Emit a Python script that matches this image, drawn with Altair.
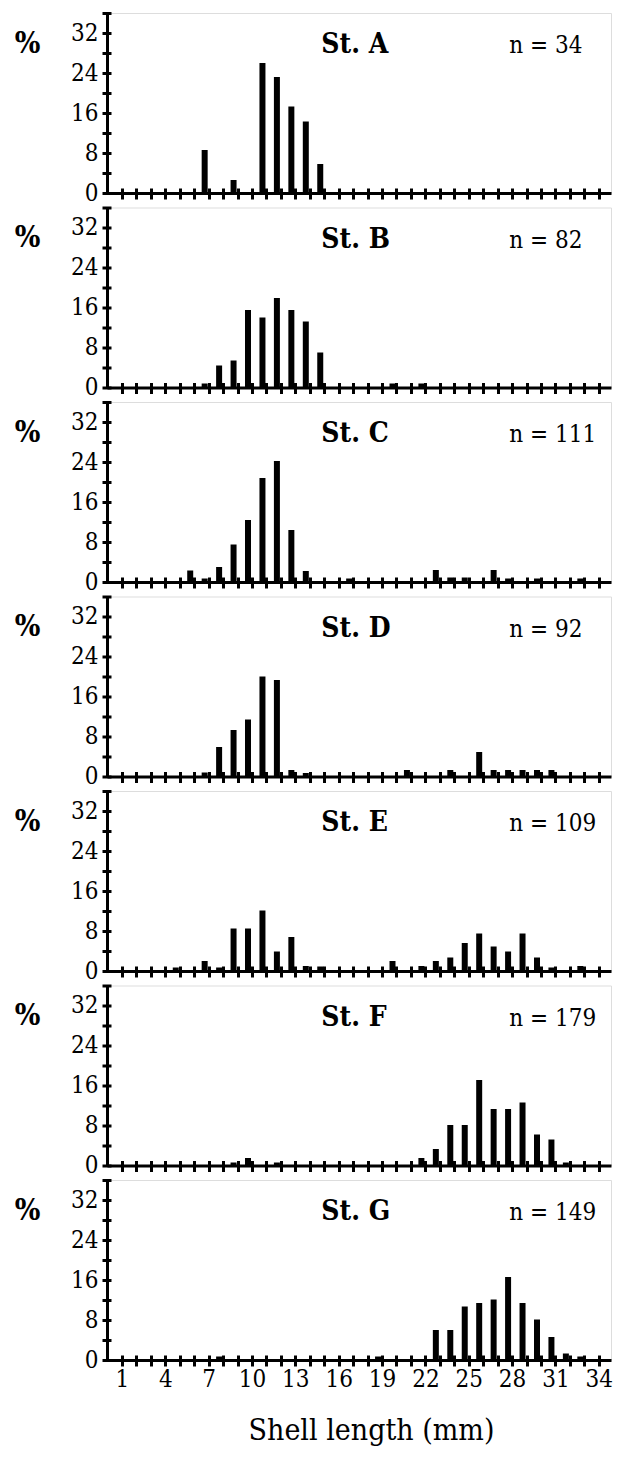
import altair as alt
import pandas as pd

FONT = "DejaVu Serif Condensed"

stations = ["St. A", "St. B", "St. C", "St. D", "St. E", "St. F", "St. G"]
sample_sizes = [34, 82, 111, 92, 109, 179, 149]

len_A = [7, 9, 11, 12, 13, 14, 15]
pct_A = [8.6, 2.6, 26.0, 23.2, 17.3, 14.3, 5.8]

len_B = [7, 8, 9, 10, 11, 12, 13, 14, 15, 20, 22]
pct_B = [0.8, 4.4, 5.4, 15.5, 14.0, 17.9, 15.5, 13.2, 7.0, 0.8, 0.8]

len_C = [6, 7, 8, 9, 10, 11, 12, 13, 14, 17, 23, 24, 25, 27, 28, 30, 33]
pct_C = [2.3, 0.7, 3.0, 7.5, 12.4, 20.8, 24.2, 10.4, 2.2, 0.7, 2.4, 0.9, 0.9, 2.4, 0.7, 0.7, 0.7]

len_D = [7, 8, 9, 10, 11, 12, 13, 14, 21, 24, 26, 27, 28, 29, 30, 31]
pct_D = [0.8, 5.9, 9.3, 11.4, 20.0, 19.3, 1.3, 0.7, 1.3, 1.3, 4.9, 1.3, 1.3, 1.3, 1.3, 1.3]

len_E = [5, 7, 8, 9, 10, 11, 12, 13, 14, 15, 20, 22, 23, 24, 25, 26, 27, 28, 29, 30, 31, 33]
pct_E = [0.7, 2.0, 0.7, 8.5, 8.5, 12.1, 3.9, 6.8, 1.0, 0.9, 2.0, 1.0, 2.0, 2.7, 5.6,
         7.5, 4.9, 3.9, 7.5, 2.7, 0.7, 1.0]

len_F = [9, 10, 12, 22, 23, 24, 25, 26, 27, 28, 29, 30, 31, 32]
pct_F = [0.6, 1.5, 0.6, 1.5, 3.3, 8.1, 8.1, 17.1, 11.3, 11.3, 12.6, 6.2, 5.2, 0.6]

len_G = [8, 19, 23, 24, 25, 26, 27, 28, 29, 30, 31, 32, 33]
pct_G = [0.7, 0.7, 6.0, 6.0, 10.7, 11.4, 12.1, 16.6, 11.4, 8.1, 4.6, 1.3, 0.7]

x_ticks = list(range(1, 35))
x_labels = list(range(1, 35, 3))
y_ticks = list(range(0, 37, 4))
y_labels = list(range(0, 33, 8))

lengths = [len_A, len_B, len_C, len_D, len_E, len_F, len_G]
pcts = [pct_A, pct_B, pct_C, pct_D, pct_E, pct_F, pct_G]

W, H = 504, 180
X_DOMAIN = [0.31, 34.5]
Y_DOMAIN = [0, 36]

x_scale = alt.Scale(domain=X_DOMAIN, nice=False, zero=False)
y_scale = alt.Scale(domain=Y_DOMAIN, nice=False)


# axes that carry the crossing tick marks (and the axis titles)
def tick_x_axis(last):
    kw = dict(
        values=x_ticks, orient="bottom", labels=False, domain=False, grid=False,
        ticks=True, tickSize=11, tickWidth=3, tickColor="black", offset=-5,
    )
    if last:
        kw.update(
            titleFont=FONT, titleFontSize=30, titleFontWeight="normal", titleColor="black",
            titleX=264, titleY=84, titleAlign="center", titleBaseline="alphabetic",
        )
    return alt.Axis(**kw)


tick_y_axis = alt.Axis(
    values=y_ticks, orient="left", labels=False, domain=False, grid=False,
    ticks=True, tickSize=9, tickWidth=3, tickColor="black", offset=-4,
    titleFont=FONT, titleFontSize=30, titleFontWeight="bold", titleColor="black",
    titleAngle=0, titleX=-84, titleY=39, titleAlign="center", titleBaseline="alphabetic",
)

# axes that carry the axis lines and the tick labels
label_y_axis = alt.Axis(
    values=y_labels, orient="left", ticks=False, tickSize=0, grid=False,
    domain=True, domainWidth=3, domainColor="black",
    labelFont=FONT, labelFontSize=24, labelColor="black", labelPadding=9,
    labelOverlap=False, labelFlush=False,
)


def label_x_axis(last):
    return alt.Axis(
        values=x_labels, orient="bottom", ticks=False, tickSize=0, grid=False,
        domain=True, domainWidth=3, domainColor="black", labels=last,
        labelFont=FONT, labelFontSize=24, labelColor="black", labelPadding=7,
        labelFlush=False, labelOverlap=False,
    )


def panel(i, last):
    df = pd.DataFrame({"length": lengths[i], "pct": pcts[i]})
    info = pd.DataFrame({"station": [stations[i]], "n": [f"n = {sample_sizes[i]}"]})

    bars = alt.Chart(df).mark_bar(color="black", width=6, xOffset=-4).encode(
        x=alt.X("length:Q", scale=x_scale, axis=tick_x_axis(last),
                title="Shell length (mm)" if last else None),
        y=alt.Y("pct:Q", scale=y_scale, axis=tick_y_axis, title="%"),
    )
    st = alt.Chart(info).mark_text(
        font=FONT, fontSize=28, fontWeight="bold", align="left", baseline="alphabetic",
        color="black",
    ).encode(
        x=alt.XDatum(14.8, type="quantitative", scale=x_scale, axis=label_x_axis(last)),
        y=alt.YDatum(28, type="quantitative", scale=y_scale, axis=label_y_axis),
        text="station:N",
    )
    nn = alt.Chart(info).mark_text(
        font=FONT, fontSize=24, align="left", baseline="alphabetic", color="black",
    ).encode(
        x=alt.XDatum(27.8, type="quantitative", scale=x_scale, axis=None),
        y=alt.YDatum(28, type="quantitative", scale=y_scale, axis=None),
        text="n:N",
    )

    return (
        alt.layer(bars, st, nn)
        .resolve_axis(x="independent", y="independent")
        .properties(width=W, height=H)
    )


panels = [panel(i, i == len(stations) - 1) for i in range(len(stations))]

chart = alt.vconcat(*panels, spacing=14.5, bounds="flush").properties(
    padding={"left": 13, "top": 11, "right": 5, "bottom": 5}
).configure_view(strokeWidth=0).configure(background="white")

chart.save("out.html", embed_options={"renderer": "svg", "actions": False})
